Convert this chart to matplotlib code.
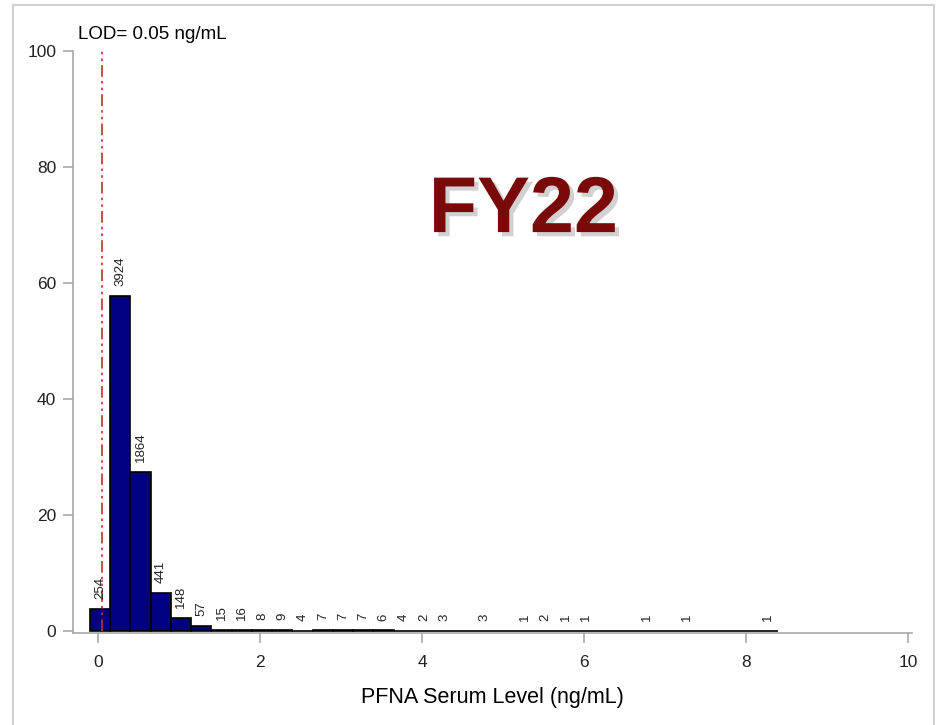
import matplotlib
matplotlib.use("Agg")
import matplotlib.pyplot as plt
import matplotlib.patheffects as pe
from matplotlib.patches import Rectangle
import numpy as np

plt.rcParams['font.family'] = ['Liberation Sans', 'DejaVu Sans']

# Histogram of PFNA serum levels, bins of 0.25 ng/mL starting at -0.1
bin_start = -0.1
bin_width = 0.25
counts = [254, 3924, 1864, 441, 148, 57, 15, 16, 8, 9, 4, 7, 7, 7, 6, 4, 2, 3,
          0, 3, 0, 1, 2, 1, 1, 0, 0, 1, 0, 1, 0, 0, 0, 1]
lod = 0.05
lod_label = "LOD= 0.05 ng/mL"
panel_title = "FY22"
x_label = "PFNA Serum Level (ng/mL)"
x_ticks = [0, 2, 4, 6, 8, 10]
y_ticks = [0, 20, 40, 60, 80, 100]

counts = np.array(counts)
percent = counts / counts.sum() * 100
lefts = bin_start + bin_width * np.arange(len(counts))
mids = lefts + bin_width / 2

fig = plt.figure(figsize=(9.38, 7.25), dpi=100)
ax = fig.add_axes([0.0778, 0.127, 0.8945, 0.8027])

ax.bar(lefts, percent, width=bin_width, align='edge', color='#000080',
       edgecolor='black', linewidth=1.2, zorder=2)

# count labels above every non-empty bin
for m, p, c in zip(mids, percent, counts):
    if c > 0:
        ax.text(m, p + 1.7, str(c), rotation=90, ha='center', va='bottom',
                fontsize=9.5, color='#222222', zorder=4)

ax.axvline(lod, ymin=0.0035, ymax=1, color='#c0302a', linewidth=1.2,
           linestyle=(0, (7, 2.5, 1.5, 2.5, 1.5, 2.5)), zorder=3)
ax.text(-0.25, 102.9, lod_label, fontsize=13.5, ha='left', va='center',
        clip_on=False)

ax.text(5.25, 72.3, panel_title, fontsize=57, fontweight='bold', color='#7a0a0a',
        ha='center', va='center',
        path_effects=[pe.SimplePatchShadow(offset=(3, -3), shadow_rgbFace='#999999', alpha=0.45),
                      pe.Normal()])

ax.set_xlim(-0.31, 10.05)
ax.set_ylim(-0.35, 100)
ax.set_xticks(x_ticks)
ax.set_yticks(y_ticks)
ax.set_xlabel(x_label, fontsize=15.5, labelpad=12)

for side in ['top', 'right']:
    ax.spines[side].set_visible(False)
for side in ['left', 'bottom']:
    ax.spines[side].set_color('#a8a8a8')
    ax.spines[side].set_linewidth(1.2)
ax.tick_params(colors='#a8a8a8', length=7, width=1.2, labelsize=12.5,
               labelcolor='#222222')
ax.tick_params(axis='x', pad=9)
ax.tick_params(axis='y', pad=5)

# thin grey frame around the figure
fig.add_artist(Rectangle((13 / 938, -0.05), (934 - 13) / 938, 1.05 - 5 / 725,
                         transform=fig.transFigure, fill=False,
                         edgecolor='#d0d0d0', linewidth=1.5))

fig.savefig("out.png", dpi=100, facecolor='white')
